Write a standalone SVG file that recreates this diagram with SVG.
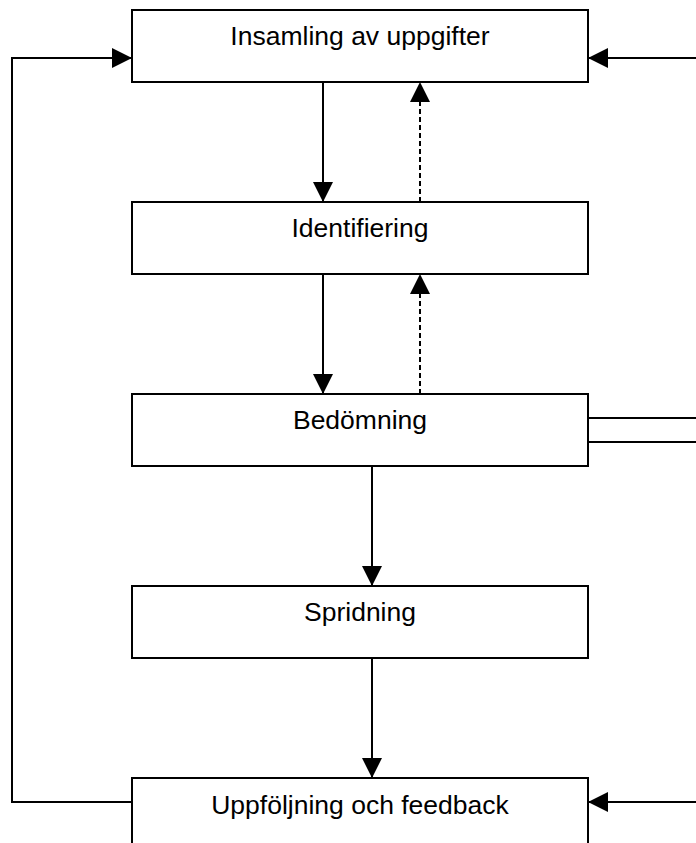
<svg xmlns="http://www.w3.org/2000/svg" width="696" height="843" viewBox="0 0 696 843">
<style>
.box{fill:#fff;stroke:#000;stroke-width:2}
.lbl{font-family:"Liberation Sans",Arial,sans-serif;font-size:26.5px;fill:#000;text-anchor:middle}
.ln{fill:none;stroke:#000;stroke-width:2}
.dash{fill:none;stroke:#000;stroke-width:2;stroke-dasharray:5,3}
</style>
<defs>
<marker id="ah" viewBox="0 0 20 20" refX="20" refY="10" markerWidth="20" markerHeight="20" markerUnits="userSpaceOnUse" orient="auto">
<path d="M0,0 L20,10 L0,20 Z" fill="#000"/>
</marker>
</defs>
<rect width="696" height="843" fill="#fff"/>
<g id="connectors">
<path class="ln" d="M132,802 H12 V58 H132" marker-end="url(#ah)"/>
<path class="ln" d="M696,58 H588" marker-end="url(#ah)"/>
<path class="ln" d="M696,802 H588" marker-end="url(#ah)"/>
<path class="ln" d="M323,82 V202" marker-end="url(#ah)"/>
<path class="dash" d="M420,202 V82" marker-end="url(#ah)"/>
<path class="ln" d="M323,274 V394" marker-end="url(#ah)"/>
<path class="dash" d="M420,394 V274" marker-end="url(#ah)"/>
<path class="ln" d="M588,418 H696"/>
<path class="ln" d="M588,442 H696"/>
<path class="ln" d="M372,466 V586" marker-end="url(#ah)"/>
<path class="ln" d="M372,658 V778" marker-end="url(#ah)"/>
</g>
<g id="insamling">
<rect class="box" x="132" y="10" width="456" height="72"/>
<text class="lbl" x="360" y="45">Insamling av uppgifter</text>
</g>
<g id="identifiering">
<rect class="box" x="132" y="202" width="456" height="72"/>
<text class="lbl" x="360" y="237">Identifiering</text>
</g>
<g id="bedomning">
<rect class="box" x="132" y="394" width="456" height="72"/>
<text class="lbl" x="360" y="429">Bedömning</text>
</g>
<g id="spridning">
<rect class="box" x="132" y="586" width="456" height="72"/>
<text class="lbl" x="360" y="621">Spridning</text>
</g>
<g id="uppfoljning">
<rect class="box" x="132" y="778" width="456" height="80"/>
<text class="lbl" x="360" y="814">Uppföljning och feedback</text>
</g>
</svg>
